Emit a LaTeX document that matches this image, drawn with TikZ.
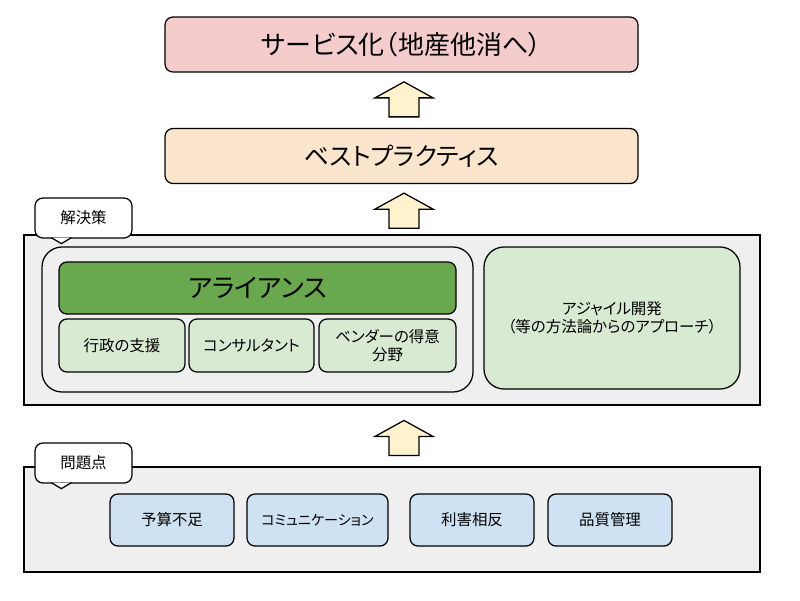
\documentclass[tikz,border=0pt]{standalone}
\usepackage{fontspec}
\setmainfont[RawFeature=+palt]{Noto Sans CJK JP}
\usetikzlibrary{calc}
\newlength{\pxu}
\setlength{\pxu}{0.025cm}
\definecolor{pinkfill}{HTML}{F4CCCC}
\definecolor{orangefill}{HTML}{FCE5CD}
\definecolor{panelfill}{HTML}{EFEFEF}
\definecolor{alliancefill}{HTML}{6AA84F}
\definecolor{greenfill}{HTML}{D9EAD3}
\definecolor{bluefill}{HTML}{CFE2F3}
\definecolor{arrowfill}{HTML}{FFF2CC}
\tikzset{
  % General box
  box/.style={draw, line width=0.9pt, rounded corners=8\pxu, inner sep=0pt,
    align=center, font=\fontsize{11pt}{13pt}\selectfont},
  % Top boxes
  titlebox/.style={box, minimum width=473\pxu, minimum height=55\pxu,
    font=\fontsize{18.5pt}{21pt}\selectfont},
  % Item boxes
  itembox/.style={box, minimum height=53\pxu},
  % Grey panels
  panel/.style={draw, line width=0.8pt, fill=panelfill, minimum width=736\pxu,
    inner sep=0pt},
  % Rounded groups
  group/.style={box, fill=panelfill, rounded corners=20\pxu},
  % Labels on the panels
  callbox/.style={box, fill=white, minimum width=97\pxu, minimum height=40\pxu},
  % Block arrows
  uparrow/.style={draw, line width=0.9pt, fill=arrowfill, line join=miter},
}

\begin{document}
\begin{tikzpicture}[x=0.025cm, y=-0.025cm]
  \useasboundingbox (0,0) rectangle (800,600);

  \node[titlebox, fill=pinkfill] (service) at (401.5,44.5) {サービス化（地産他消へ）};
  \node[titlebox, fill=orangefill, font=\fontsize{17.5pt}{20pt}\selectfont] (best) at (401.5,156) {ベストプラクティス};

  % solutions
  \node[panel, minimum height=170\pxu] (solpanel) at (392,320) {};
  \node[group, minimum width=431\pxu, minimum height=145\pxu] (group) at (257.5,319.5) {};
  \node[box, fill=alliancefill, minimum width=397\pxu, minimum height=52\pxu,
    font=\fontsize{18.5pt}{21pt}\selectfont] (alliance) at (257.5,288) {アライアンス};
  \node[itembox, fill=greenfill, minimum width=126\pxu] (gov) at (122,345.5) {行政の支援};
  \node[itembox, fill=greenfill, minimum width=125\pxu] (consult) at (251.5,345.5) {コンサルタント};
  \node[itembox, fill=greenfill, minimum width=137\pxu] (vendor) at (387.5,345.5) {ベンダーの得意\\分野};
  \node[group, fill=greenfill, minimum width=256\pxu, minimum height=142\pxu] (agile) at (612,318)
    {アジャイル開発\\（等の方法論からのアプローチ）};
  \node[callbox] (sol) at (83.5,218) {解決策};
  \draw[line width=0.9pt, fill=white] ($(sol.south west)+(17,-1)$) -- ++(10,6) -- ++(10,-6);

  % problems
  \node[panel, minimum height=105\pxu] (probpanel) at (392,519.5) {};
  \node[itembox, fill=bluefill, minimum width=124\pxu, minimum height=52\pxu] (budget) at (172,520) {予算不足};
  \node[itembox, fill=bluefill, minimum width=141\pxu, minimum height=52\pxu,
    font=\fontsize{10pt}{12pt}\selectfont] (comm) at (317.5,520) {コミュニケーション};
  \node[itembox, fill=bluefill, minimum width=124\pxu, minimum height=52\pxu] (conflict) at (472,520) {利害相反};
  \node[itembox, fill=bluefill, minimum width=124\pxu, minimum height=52\pxu] (quality) at (610,520) {品質管理};
  \node[callbox] (prob) at (83.5,463) {問題点};
  \draw[line width=0.9pt, fill=white] ($(prob.south west)+(17,-1)$) -- ++(10,6) -- ++(10,-6);

  % arrows
  \coordinate (ar1) at ($(best.north)+(2.5,-11)$);
  \coordinate (ar2) at ($(best.south)+(2.5,44)$);
  \coordinate (ar3) at ($(best.south |- probpanel.north)+(2.5,-11)$);
  \foreach \a in {ar1, ar2, ar3}
    \draw[uparrow] (\a) ++(-15,0) -- ++(30,0) -- ++(0,-19) -- ++(14,0)
      -- ++(-29,-16) -- ++(-29,16) -- ++(14,0) -- cycle;
\end{tikzpicture}
\end{document}
